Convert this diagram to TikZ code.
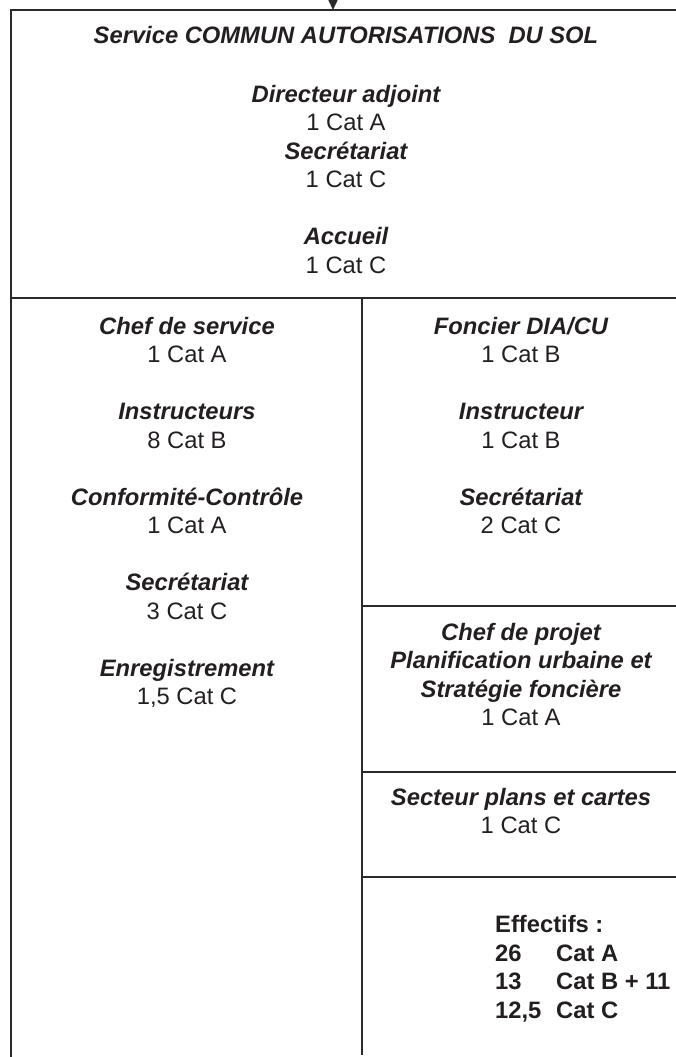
\documentclass[tikz,border=0pt]{standalone}
\usepackage{fontspec}
\setmainfont{Liberation Sans}
\usetikzlibrary{arrows.meta}
\definecolor{ink}{HTML}{231F20}
\definecolor{rule}{HTML}{2A2A2A}
\newcommand\hdfont{\fontsize{23.75}{28.5}\selectfont\bfseries\itshape}
\newcommand\nmfont{\fontsize{23.75}{28.5}\selectfont}
\newcommand\effont{\fontsize{23.75}{28.5}\selectfont\bfseries}
\tikzset{
  hd/.style={font=\hdfont, text=ink, anchor=base, inner sep=0pt},
  nm/.style={font=\nmfont, text=ink, anchor=base, inner sep=0pt},
  ef/.style={font=\effont, text=ink, anchor=base west, inner sep=0pt},
  frame/.style={draw=rule, line width=2pt},
}
\begin{document}
\begin{tikzpicture}[x=1pt,y=-1pt]
\useasboundingbox (0,0) rectangle (675,1057);
% frame
\coordinate (tl) at (11,10.5);
\coordinate (tr) at (700,10.5);
\coordinate (bl) at (11,1070);
\coordinate (ml) at (11,298);
\coordinate (mr) at (700,298);
\coordinate (mid) at (362,298);
\coordinate (midb) at (362,1055);
\draw[frame] (tr) -- (tl) -- (bl);
\draw[frame] (ml) -- (mr);
\draw[frame] (mid) -- (midb);
\coordinate (r1a) at (362,606); \coordinate (r1b) at (700,606);
\coordinate (r2a) at (362,772); \coordinate (r2b) at (700,772);
\coordinate (r3a) at (362,877); \coordinate (r3b) at (700,877);
\draw[frame] (r1a) -- (r1b);
\draw[frame] (r2a) -- (r2b);
\draw[frame] (r3a) -- (r3b);
% incoming arrow
\coordinate (src) at (333,-40);
\coordinate (dst) at (333,10);
\draw[rule, line width=1.5pt, -{Triangle[width=9pt,length=10pt]}] (src) -- (dst);
% top section
\node[hd] (title) at (346,44) {Service COMMUN AUTORISATIONS\ \ DU SOL};
\node[hd] (dir) at (346,102) {Directeur adjoint};
\node[nm] (dirn) at (346,130.5) {1 Cat A};
\node[hd] (sec) at (346,159) {Secrétariat};
\node[nm] (secn) at (346,187.5) {1 Cat C};
\node[hd] (acc) at (346,244.5) {Accueil};
\node[nm] (accn) at (346,273) {1 Cat C};
% left column
\node[hd] (chef) at (187,334) {Chef de service};
\node[nm] (chefn) at (187,362.5) {1 Cat A};
\node[hd] (instr) at (187,419.5) {Instructeurs};
\node[nm] (instrn) at (187,448) {8 Cat B};
\node[hd] (conf) at (187,505) {Conformité-Contrôle};
\node[nm] (confn) at (187,533.5) {1 Cat A};
\node[hd] (secl) at (187,590.5) {Secrétariat};
\node[nm] (secln) at (187,619) {3 Cat C};
\node[hd] (enr) at (187,676) {Enregistrement};
\node[nm] (enrn) at (187,704.5) {1,5 Cat C};
% right column
\node[hd] (fon) at (521,334) {Foncier DIA/CU};
\node[nm] (fonn) at (521,362.5) {1 Cat B};
\node[hd] (ins) at (521,419.5) {Instructeur};
\node[nm] (insn) at (521,448) {1 Cat B};
\node[hd] (secr) at (521,505) {Secrétariat};
\node[nm] (secrn) at (521,533.5) {2 Cat C};
\node[hd] (cp1) at (521,640) {Chef de projet};
\node[hd] (cp2) at (521,668.5) {Planification urbaine et};
\node[hd] (cp3) at (521,697) {Stratégie foncière};
\node[nm] (cpn) at (521,725.5) {1 Cat A};
\node[hd] (spc) at (521,805) {Secteur plans et cartes};
\node[nm] (spcn) at (521,833.5) {1 Cat C};
% effectifs
\node[ef] (eff) at (495,932.5) {Effectifs :};
\node[ef] (e1a) at (495,961) {26};
\node[ef] (e1b) at (556,961) {Cat A};
\node[ef] (e2a) at (495,989.5) {13};
\node[ef] (e2b) at (556,989.5) {Cat B + 11};
\node[ef] (e3a) at (495,1018) {12,5};
\node[ef] (e3b) at (556,1018) {Cat C};
\end{tikzpicture}
\end{document}
